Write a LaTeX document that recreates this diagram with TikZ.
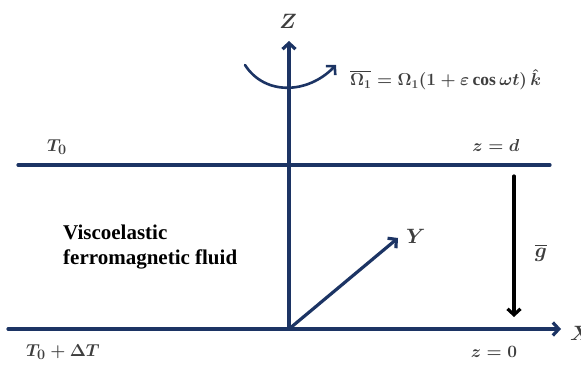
\documentclass[tikz,border=0pt]{standalone}
\usepackage{amsmath,amssymb}
\usepackage{fontspec}
\setmainfont{Liberation Serif}
\usetikzlibrary{arrows.meta}
\definecolor{axisblue}{RGB}{28,52,100}
\definecolor{labelgray}{RGB}{62,62,62}
\tikzset{
  every picture/.style={line join=round, line cap=round, >={Straight Barb[length=6pt,width=13pt]}},
  axis/.style={draw=axisblue, line width=3.2pt},
  gravity/.style={draw=black, line width=3.2pt},
  lbl/.style={text=labelgray, inner sep=0pt},
  big/.style={font=\fontsize{22}{26}\selectfont\boldmath},
  mid/.style={font=\fontsize{19}{22}\selectfont\boldmath},
}

\begin{document}
\begin{tikzpicture}[x=1pt,y=-1pt]
\useasboundingbox (0,0) rectangle (581,366);
% axes and plates
\coordinate (O) at (289,329);
\coordinate (Xtip) at (561,329);
\coordinate (Ztip) at (289,41);
\coordinate (Ytip) at (398,238);
\coordinate (topL) at (18,165);
\coordinate (topR) at (550,165);
\coordinate (botL) at (8,329);
\draw[axis] (topL)--(topR);
\draw[axis,->] (botL)--(Xtip);
\draw[axis,->] (O)--(Ztip);
\draw[axis,->] (O)--(Ytip);
% rotation
\coordinate (rotA) at (245,65);
\coordinate (rotB) at (336,65);
\draw[axis,line width=2.6pt,->] (rotA) .. controls (265,96) and (308,94) .. (rotB);
% gravity
\coordinate (gA) at (514,176);
\coordinate (gB) at (514,317);
\draw[gravity,->] (gA)--(gB);
% labels
\node[lbl,big] (Zlab) at (288,21) {$Z$};
\node[lbl,big,anchor=west] (Ylab) at (406,236) {$Y$};
\node[lbl,big,anchor=west] (Xlab) at (570,333) {$X$};
\node[lbl,font=\fontsize{17.5}{21}\selectfont\boldmath,anchor=west] (omega) at (350,80) {$\overline{\Omega_1}=\Omega_1(1+\varepsilon\cos\omega t)\,\hat{k}$};
\node[lbl,mid] (T0) at (57,147) {$T_0$};
\node[lbl,mid] (T0dT) at (63,352) {$T_0+\Delta T$};
\node[lbl,mid] (zd) at (496,146) {$z=d$};
\node[lbl,mid] (z0) at (494,352) {$z=0$};
\node[lbl,big] (glab) at (541,253) {$\overline{g}$};
\node[inner sep=0pt,anchor=west,align=left,font=\fontsize{21}{25}\selectfont\bfseries] (fluid) at (63,247) {Viscoelastic\\ferromagnetic fluid};
\end{tikzpicture}
\end{document}
